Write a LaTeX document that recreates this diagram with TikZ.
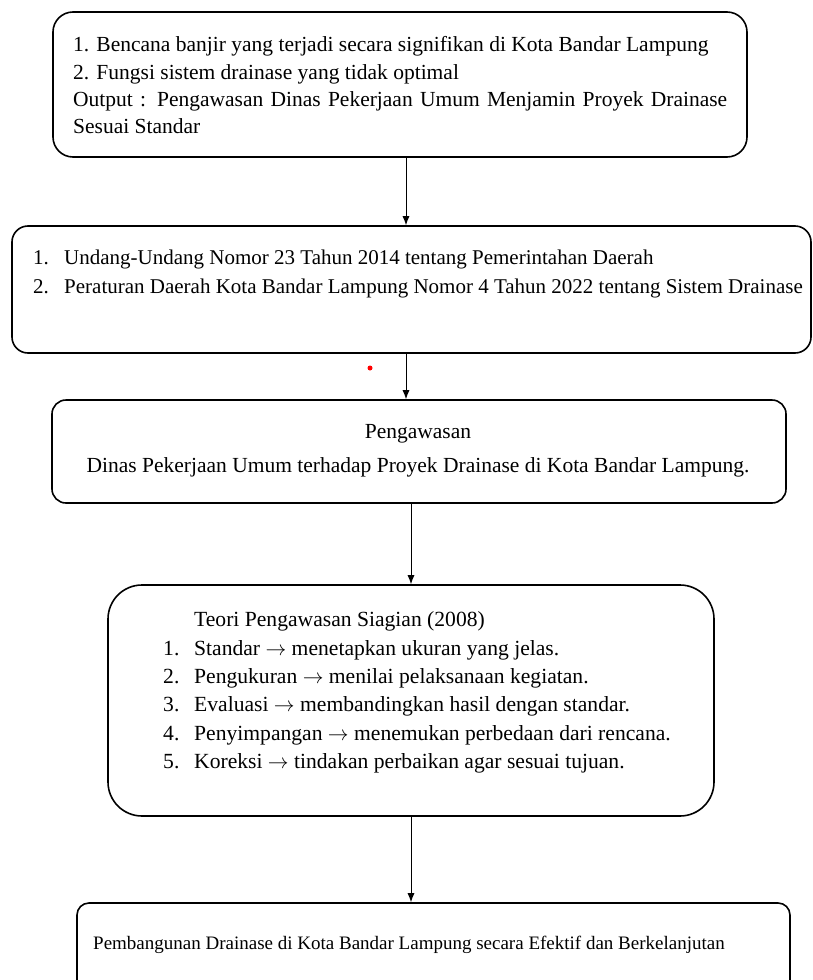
\documentclass[tikz,border=0pt]{standalone}
\usepackage{fontspec}
\setmainfont{Liberation Serif}
\usetikzlibrary{arrows.meta,positioning}

\tikzset{
  flowbox/.style={draw, line width=1.6pt, inner sep=0pt, rounded corners=#1},
  flowtext/.style={inner sep=0pt, anchor=north west, align=left,
    font=\fontsize{21}{#1}\selectfont},
  flowarrow/.style={-{Latex[length=9pt,width=7pt]}, line width=0.9pt},
}
\newcommand{\nomor}[1]{\makebox[31pt][l]{#1}}
\newcommand{\panah}{$\rightarrow$}

\begin{document}
\begin{tikzpicture}[x=1pt,y=-1pt]
  \useasboundingbox (0,0) rectangle (812,980);
  \clip (0,0) rectangle (812,980);

  % boxes
  \node[flowbox=20pt, minimum width=694pt, minimum height=145pt] (masalah) at (400,84.5) {};
  \node[flowbox=16pt, minimum width=799pt, minimum height=127pt] (regulasi) at (411.5,289.5) {};
  \node[flowbox=14pt, minimum width=734pt, minimum height=103pt] (pengawasan) at (419,451.5) {};
  \node[flowbox=34pt, minimum width=606pt, minimum height=231pt] (teori) at (411,700.5) {};
  \node[flowbox=12pt, minimum width=713pt, minimum height=110pt] (hasil) at (433.5,958) {};

  % texts
  \node[flowtext=27.3pt, text width=654pt, align=justify, font=\fontsize{21.5}{27.3}\selectfont]
    (tmasalah) at (73,36.5)
    {1. Bencana banjir yang terjadi secara signifikan di Kota Bandar Lampung\\
     2. Fungsi sistem drainase yang tidak optimal\\
     Output : Pengawasan Dinas Pekerjaan Umum Menjamin Proyek Drainase\linebreak Sesuai Standar};
  \node[flowtext=29pt] (tregulasi) at (33,249.5)
    {\nomor{1.}Undang-Undang Nomor 23 Tahun 2014 tentang Pemerintahan Daerah\\
     \nomor{2.}Peraturan Daerah Kota Bandar Lampung Nomor 4 Tahun 2022 tentang Sistem Drainase};
  \node[flowtext=34pt, anchor=north, align=center, font=\fontsize{21.5}{34}\selectfont]
    (tpengawasan) at (418,424.5)
    {Pengawasan\\
     Dinas Pekerjaan Umum terhadap Proyek Drainase di Kota Bandar Lampung.};
  \node[flowtext=28.4pt, font=\fontsize{21.6}{28.4}\selectfont] (tteori) at (163,611.5)
    {\nomor{}Teori Pengawasan Siagian (2008)\\
     \nomor{1.}Standar \panah{} menetapkan ukuran yang jelas.\\
     \nomor{2.}Pengukuran \panah{} menilai pelaksanaan kegiatan.\\
     \nomor{3.}Evaluasi \panah{} membandingkan hasil dengan standar.\\
     \nomor{4.}Penyimpangan \panah{} menemukan perbedaan dari rencana.\\
     \nomor{5.}Koreksi \panah{} tindakan perbaikan agar sesuai tujuan.};
  \node[flowtext=20pt, anchor=base west, font=\fontsize{19}{20}\selectfont] (thasil) at (93,949)
    {Pembangunan Drainase di Kota Bandar Lampung secara Efektif dan Berkelanjutan};

  % arrows
  \coordinate (kolomA) at (406,0);
  \coordinate (kolomB) at (411,0);
  \draw[flowarrow] (masalah.south -| kolomA) -- (regulasi.north -| kolomA);
  \draw[flowarrow] (regulasi.south -| kolomA) -- (pengawasan.north -| kolomA);
  \draw[flowarrow] (pengawasan.south -| kolomB) -- (teori.north -| kolomB);
  \draw[flowarrow] (teori.south -| kolomB) -- (hasil.north -| kolomB);

  \fill[red] (370,368) circle (2.5pt);
\end{tikzpicture}
\end{document}
